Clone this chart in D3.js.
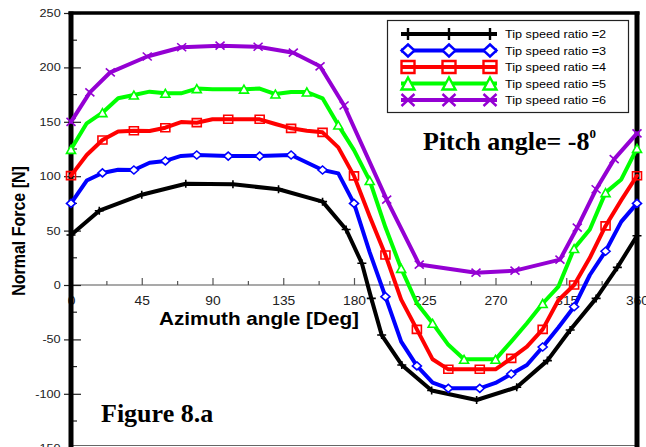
<!DOCTYPE html>
<html>
<head>
<meta charset="utf-8">
<script src="https://cdn.jsdelivr.net/npm/d3@7"></script>
<style>
  html, body { margin: 0; padding: 0; background: #fff; }
  svg { display: block; }
  .sans { font-family: "Liberation Sans", Arial, Helvetica, sans-serif; }
  .serif { font-family: "Liberation Serif", "Times New Roman", serif; font-weight: bold; }
</style>
</head>
<body>
<svg id="chart" width="646" height="447"></svg>
<script>
// ---- data: normal force [N] vs azimuth angle [deg], pitch angle -8 deg ----
const xTickValues = [0, 45, 90, 135, 180, 225, 270, 315, 360];
const xMinorValues = [22.5, 67.5, 112.5, 157.5, 202.5, 247.5, 292.5, 337.5];
const yTickValues = [250, 200, 150, 100, 50, 0, -50, -100, -150];
const yMinorValues = [225, 175, 125, 75, 25, -25, -75, -125];

const seriesNames = ["Tip speed ratio =2", "Tip speed ratio =3", "Tip speed ratio =4",
                     "Tip speed ratio =5", "Tip speed ratio =6"];
const seriesColors = ["#000000", "#0000ff", "#ff0000", "#00ff00", "#9400d3"];
const seriesShapes = ["plus", "diamond", "square", "triangle", "cross"];

const tsr2Angle = [0, 18, 45, 73, 103, 132, 160, 175, 185, 191, 197.6, 210.4, 229.4, 258, 283.5, 303, 317.5, 334, 347.5, 360];
const tsr2Force = [46, 68.3, 83, 93, 92.5, 88, 76.6, 51, 20, -12.3, -46, -73.5, -97, -105.7, -94, -69.5, -41.4, -12.3, 16.2, 45.3];
const tsr2Marks = tsr2Angle;

const gridAngle = [0, 10, 20, 30, 40, 50, 60, 70, 80, 90, 100, 110, 120, 130, 140, 150, 160, 170, 180,
                   190, 200, 210, 220, 230, 240, 250, 260, 270, 280, 290, 300, 310, 320, 330, 340, 350, 360];

const tsr3Force = [75, 96, 103, 106, 105.7, 112.4, 114, 118.6, 119.5, 119, 118.5, 118.5, 118.5, 119, 119.5, 112.6, 105.7, 102.6, 75,
                   30, -10.7, -52, -74.4, -89.8, -95, -95, -95, -90, -81.8, -73.5, -57, -39, -20, 9.2, 31, 58.2, 75];
const tsr3Marks = [0, 20, 40, 60, 80, 100, 120, 140, 160, 180, 200, 220, 240, 260, 280, 300, 320, 340, 360];

const tsr4Force = [100.5, 119.5, 133.3, 141, 141.8, 141.5, 144.6, 149.8, 149.2, 152.3, 152.3, 152.3, 152.3, 148, 144, 141.8, 140.3, 126.5, 100.3,
                   63, 27.6, -13.5, -40.8, -68.3, -77.5, -77.5, -77.5, -77.5, -67.4, -56.7, -40.8, -14, 0, 25, 54.3, 78, 100.4];
const tsr4Marks = [0, 20, 40, 60, 80, 100, 120, 140, 160, 180, 200, 220, 240, 260, 280, 300, 320, 340, 360];

const tsr5Force = [124.7, 148.6, 158.4, 171.6, 174.6, 177.7, 176.2, 176.2, 180.5, 180, 180, 180, 180.5, 175.5, 177.4, 177.4, 171.6, 147, 124,
                   96, 53, 15.3, -16.8, -35.2, -55, -68.3, -68.3, -68.3, -52, -35.2, -17, -1.5, 33.5, 51, 84.9, 97, 125.6];
const tsr5Marks = [0, 20, 40, 60, 80, 110, 130, 150, 170, 190, 210, 230, 250, 270, 300, 320, 340, 360];

const tsr6Angle = [0, 12, 25, 48.5, 70.4, 94.8, 119, 141.4, 158.4, 173.7, 200.8, 221.5, 257.6, 282.4, 311, 322, 334, 345.5, 360];
const tsr6Force = [150, 177, 195.5, 210, 218.5, 220, 219, 213.5, 201, 165, 78.5, 18.8, 11.3, 13.2, 23.3, 52.8, 88, 115.7, 139.4];
const tsr6Marks = tsr6Angle;

const series = [
  { angle: tsr2Angle, force: tsr2Force, marks: tsr2Marks },
  { angle: gridAngle, force: tsr3Force, marks: tsr3Marks },
  { angle: gridAngle, force: tsr4Force, marks: tsr4Marks },
  { angle: gridAngle, force: tsr5Force, marks: tsr5Marks },
  { angle: tsr6Angle, force: tsr6Force, marks: tsr6Marks }
].map((s, i) => ({
  name: seriesNames[i], color: seriesColors[i], shape: seriesShapes[i],
  points: s.angle.map((a, j) => ({ a, v: s.force[j], marked: s.marks.includes(a) }))
}));

// ---- layout ----
const W = 646, H = 447;
const SX = 1.15; // horizontal stretch of the sans-serif lettering
const svg = d3.select("#chart");
svg.append("rect").attr("width", W).attr("height", H).attr("fill", "#fff");

const x = d3.scaleLinear().domain([0, 360]).range([71, 637]);
const y = d3.scaleLinear().domain([-150, 250]).range([448.2, 13]);
const plotBottom = 445.5;
const plainNumber = d => String(d); // hyphen-minus, as printed on the axes

// marker outlines centred on (0,0)
function markerPath(shape, w, h) {
  const a = w / 2, b = h / 2;
  switch (shape) {
    case "plus": return `M${-a},0H${a}M0,${-b}V${b}`;
    case "diamond": return `M0,${-b}L${a},0L0,${b}L${-a},0Z`;
    case "square": return `M${-a},${-b}H${a}V${b}H${-a}Z`;
    case "triangle": return `M0,${-b}L${a},${b}H${-a}Z`;
    case "cross": return `M${-a},${-b}L${a},${b}M${a},${-b}L${-a},${b}`;
  }
}
const markerFill = { plus: "none", diamond: "#fff", square: "none", triangle: "#fff", cross: "none" };

// ---- zero line with azimuth ticks ----
svg.append("line")
  .attr("x1", x(0)).attr("x2", x(360)).attr("y1", y(0)).attr("y2", y(0))
  .attr("stroke", "#555").attr("stroke-width", 1.2);

const xAxis = svg.append("g")
  .attr("class", "sans")
  .attr("transform", `translate(0,${y(0)})`)
  .call(d3.axisBottom(x).tickValues(xTickValues).tickSize(-7).tickPadding(11).tickFormat(plainNumber));
xAxis.select(".domain").remove();
xAxis.selectAll(".tick line").attr("stroke", "#555").attr("stroke-width", 1.2);
xAxis.selectAll(".tick text")
  .attr("font-size", 12).attr("fill", "#222")
  .attr("font-family", "Liberation Sans, Arial, sans-serif")
  .attr("transform", `scale(${SX},1)`);

const xMinor = svg.append("g")
  .attr("transform", `translate(0,${y(0)})`)
  .call(d3.axisBottom(x).tickValues(xMinorValues).tickSize(-4).tickFormat(""));
xMinor.select(".domain").remove();
xMinor.selectAll(".tick line").attr("stroke", "#555").attr("stroke-width", 1.2);

// ---- force axis ticks and labels ----
const yAxis = svg.append("g")
  .attr("transform", `translate(${x(0)},0)`)
  .call(d3.axisLeft(y).tickValues(yTickValues).tickSize(0).tickPadding(9).tickFormat(plainNumber));
yAxis.select(".domain").remove();
yAxis.selectAll(".tick text")
  .attr("font-size", 11).attr("fill", "#222")
  .attr("font-family", "Liberation Sans, Arial, sans-serif")
  .attr("transform", `scale(${SX},1)`);
yAxis.selectAll(".tick").append("line")
  .attr("x1", -7).attr("x2", 10).attr("stroke", "#222").attr("stroke-width", 1.2);

svg.append("g").selectAll("line").data(yMinorValues).join("line")
  .attr("x1", x(0)).attr("x2", x(0) + 6)
  .attr("y1", d => y(d)).attr("y2", d => y(d))
  .attr("stroke", "#222").attr("stroke-width", 1.2);

// ---- frame ----
svg.append("line").attr("x1", x(0)).attr("x2", x(360)).attr("y1", plotBottom).attr("y2", plotBottom)
  .attr("stroke", "#666").attr("stroke-width", 1.2);
svg.append("line").attr("x1", x(0) - 2.5).attr("x2", x(360) + 2.5).attr("y1", y(250)).attr("y2", y(250))
  .attr("stroke", "#000").attr("stroke-width", 3.5);
[0, 360].forEach(a => {
  svg.append("line").attr("x1", x(a)).attr("x2", x(a)).attr("y1", y(250) - 1.5).attr("y2", H)
    .attr("stroke", "#000").attr("stroke-width", 5);
});

// ---- series ----
const line = d3.line().x(d => x(d.a)).y(d => y(d.v));
const gSeries = svg.append("g");
series.forEach(s => {
  const g = gSeries.append("g");
  g.append("path").datum(s.points)
    .attr("d", line).attr("fill", "none")
    .attr("stroke", s.color).attr("stroke-width", 4)
    .attr("stroke-linejoin", "round").attr("stroke-linecap", "round");
  g.selectAll("path.mk").data(s.points.filter(p => p.marked)).join("path")
    .attr("class", "mk")
    .attr("transform", d => `translate(${x(d.a)},${y(d.v)})`)
    .attr("d", markerPath(s.shape, 9, 8))
    .attr("fill", markerFill[s.shape])
    .attr("stroke", s.color).attr("stroke-width", 1.6);
});

// ---- axis titles ----
svg.append("text").attr("class", "sans")
  .attr("transform", `translate(259,325) scale(${SX},1)`)
  .attr("text-anchor", "middle").attr("font-size", 18).attr("font-weight", "bold")
  .text("Azimuth angle [Deg]");
svg.append("text").attr("class", "sans")
  .attr("transform", `translate(25,231) scale(${SX},1) rotate(-90)`)
  .attr("text-anchor", "middle").attr("font-size", 16).attr("font-weight", "bold")
  .text("Normal Force [N]");

// ---- annotations ----
const pitch = svg.append("text").attr("class", "serif")
  .attr("x", 423).attr("y", 150).attr("font-size", 26);
pitch.append("tspan").text("Pitch angle= -8");
pitch.append("tspan").attr("font-size", 13).attr("dy", -12).text("0");

svg.append("text").attr("class", "serif")
  .attr("x", 101).attr("y", 421.5).attr("font-size", 26)
  .text("Figure 8.a");

// ---- legend ----
const legend = svg.append("g");
legend.append("rect")
  .attr("x", 387.5).attr("y", 20.5).attr("width", 241).attr("height", 92)
  .attr("fill", "#fff").attr("stroke", "#222").attr("stroke-width", 1.2);
series.forEach((s, i) => {
  const ry = 34 + i * 16.5;
  const row = legend.append("g");
  row.append("line").attr("x1", 401).attr("x2", 497).attr("y1", ry).attr("y2", ry)
    .attr("stroke", s.color).attr("stroke-width", 4);
  [408, 449, 490].forEach(mx => {
    row.append("path")
      .attr("transform", `translate(${mx},${ry})`)
      .attr("d", markerPath(s.shape, 13, 12))
      .attr("fill", markerFill[s.shape])
      .attr("stroke", s.color).attr("stroke-width", 2.4);
  });
  row.append("text").attr("class", "sans")
    .attr("transform", `translate(505,${ry + 4}) scale(${SX},1)`)
    .attr("font-size", 11).attr("fill", "#000")
    .text(s.name);
});
</script>
</body>
</html>
